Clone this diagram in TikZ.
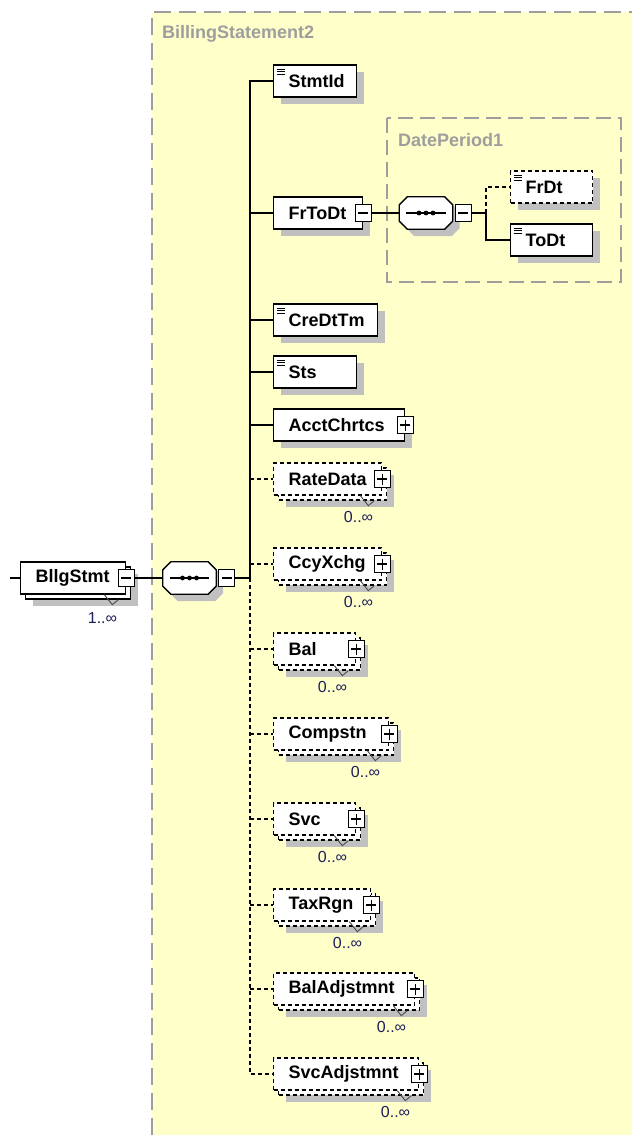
\documentclass[tikz,border=0pt]{standalone}
\usepackage{fontspec}
\setmainfont{Liberation Sans}
\usetikzlibrary{calc}
\definecolor{paneyellow}{RGB}{255,255,202}
\definecolor{framegray}{RGB}{158,158,158}
\definecolor{shadowgray}{RGB}{192,192,192}
\definecolor{occurblue}{RGB}{30,30,90}
\newcommand\octpath[1]{($(#1.north west)+(8,0)$) -- ($(#1.north east)+(-8,0)$) -- ($(#1.north east)+(0,8)$) -- ($(#1.south east)+(0,-8)$) -- ($(#1.south east)+(-8,0)$) -- ($(#1.south west)+(8,0)$) -- ($(#1.south west)+(0,-8)$) -- ($(#1.north west)+(0,8)$) -- cycle}
\begin{document}
\begin{tikzpicture}[x=1pt,y=-1pt,line join=miter,font=\fontsize{18}{21}\selectfont\bfseries,
	shade7/.style={preaction={fill=shadowgray,draw=none,transform canvas={shift={(7pt,-7pt)}}}},
	shade12/.style={preaction={fill=shadowgray,draw=none,transform canvas={shift={(12pt,-12pt)}}}},
	elembox/.style={draw,line width=1.3pt,fill=white,minimum height=32pt,inner xsep=15pt,inner ysep=0pt,text width=#1-30pt,align=left,anchor=west},
	elem/.style={shade7,elembox=#1},
	optelem/.style={shade7,elembox=#1,dash pattern=on 4pt off 3pt},
	multi/.style={shade12,preaction={draw,fill=white,transform canvas={shift={(5pt,-5pt)}}},elembox=#1},
	optmulti/.style={shade12,preaction={draw,fill=white,dash pattern=on 4pt off 3pt,transform canvas={shift={(5pt,-5pt)}}},elembox=#1,dash pattern=on 4pt off 3pt},
	simple/.style={path picture={\foreach \d in {4,6.5,9} \draw[line width=.8pt,solid] ([xshift=3pt,yshift=-\d pt]path picture bounding box.north west) -- +(8pt,0);}},
	ctrl/.style={draw,solid,line width=1.1pt,fill=white,minimum width=16pt,minimum height=17pt,inner sep=0pt},
	expbox/.style={ctrl,path picture={\draw[line width=1.1pt] ([xshift=3pt]path picture bounding box.west) -- ([xshift=-3pt]path picture bounding box.east) ([yshift=-3pt]path picture bounding box.north) -- ([yshift=3pt]path picture bounding box.south);}},
	colbox/.style={ctrl,path picture={\draw[line width=1.1pt] ([xshift=3pt]path picture bounding box.west) -- ([xshift=-3pt]path picture bounding box.east);}},
	seqbox/.style={minimum width=53pt,minimum height=32pt,inner sep=0pt},
	seqline/.style={line width=1.3pt,fill=white},
	wire/.style={line width=1.3pt},
	optwire/.style={line width=1.3pt,dash pattern=on 4pt off 3pt},
	notch/.style={line width=.9pt,black!70},
	occur/.style={font=\fontsize{16}{18}\selectfont,text=occurblue,inner sep=0pt,anchor=east},
	paneframe/.style={framegray,line width=2pt,dash pattern=on 17pt off 8pt},
	grpbox/.style={framegray,line width=1.6pt,dash pattern=on 15pt off 7pt},
	grplabel/.style={text=framegray,inner sep=0pt,anchor=west}]
	\useasboundingbox (0,0) rectangle (632,1135);
	\fill[white] (0,0) rectangle (632,1135);
	\fill[paneyellow] (152,12) rectangle (632,1135);
	\draw[paneframe] (152,1135) -- (152,12) -- (632,12);
	\node[grplabel] (pane) at (162,34) {BillingStatement2};
	\draw[grpbox] (387,118) rectangle (621,282);
	\node[grplabel] (period) at (398,140) {DatePeriod1};
	
	\node[multi=105pt] (BllgStmt) at (20,578) {BllgStmt};
	\node[colbox] (BllgStmt-x) at (BllgStmt.east) {};
	\draw[notch] ([xshift=-22pt]BllgStmt.south east) -- ++(8,10) -- ++(6,-5);
	\node[occur] (BllgStmt-n) at ($(BllgStmt.east)+(-9,40)$) {1..∞};
	\node[seqbox] (seq) at (189.5,578) {};
	\fill[shadowgray,transform canvas={shift={(7pt,-7pt)}}] \octpath{seq};
	\draw[seqline] \octpath{seq};
	\draw[wire] ([xshift=7pt]seq.west) -- ([xshift=-7pt]seq.east);
	\fill ([xshift=-7pt]seq.center) circle (2.4pt) (seq.center) circle (2.4pt) ([xshift=7pt]seq.center) circle (2.4pt);
	\node[colbox,anchor=west] (seq-x) at ([xshift=2pt]seq.east) {};
	
	\node[elem=83pt,simple] (StmtId) at (273,81) {StmtId};
	\node[elem=89pt] (FrToDt) at (273,213) {FrToDt};
	\node[colbox] (FrToDt-x) at (FrToDt.east) {};
	\node[elem=104pt,simple] (CreDtTm) at (273,320) {CreDtTm};
	\node[elem=83pt,simple] (Sts) at (273,372) {Sts};
	\node[elem=131pt] (AcctChrtcs) at (273,425) {AcctChrtcs};
	\node[expbox] (AcctChrtcs-x) at (AcctChrtcs.east) {};
	
	\node[seqbox] (seq2) at (426,213) {};
	\fill[shadowgray,transform canvas={shift={(7pt,-7pt)}}] \octpath{seq2};
	\draw[seqline] \octpath{seq2};
	\draw[wire] ([xshift=7pt]seq2.west) -- ([xshift=-7pt]seq2.east);
	\fill ([xshift=-7pt]seq2.center) circle (2.4pt) (seq2.center) circle (2.4pt) ([xshift=7pt]seq2.center) circle (2.4pt);
	\node[colbox,anchor=west] (seq2-x) at ([xshift=2pt]seq2.east) {};
	\node[optelem=82pt,simple] (FrDt) at (510,187) {FrDt};
	\node[elem=82pt,simple] (ToDt) at (510,240) {ToDt};
	
	\node[optmulti=108pt] (RateData) at (273,479) {RateData};
	\node[expbox] (RateData-x) at (RateData.east) {};
	\draw[notch] ([xshift=-22pt]RateData.south east) -- ++(8,10) -- ++(6,-5);
	\node[occur] (RateData-n) at ($(RateData.east)+(-9,38)$) {0..∞};
	\node[optmulti=108pt] (CcyXchg) at (273,564) {CcyXchg};
	\node[expbox] (CcyXchg-x) at (CcyXchg.east) {};
	\draw[notch] ([xshift=-22pt]CcyXchg.south east) -- ++(8,10) -- ++(6,-5);
	\node[occur] (CcyXchg-n) at ($(CcyXchg.east)+(-9,38)$) {0..∞};
	\node[optmulti=82pt] (Bal) at (273,649) {Bal};
	\node[expbox] (Bal-x) at (Bal.east) {};
	\draw[notch] ([xshift=-22pt]Bal.south east) -- ++(8,10) -- ++(6,-5);
	\node[occur] (Bal-n) at ($(Bal.east)+(-9,38)$) {0..∞};
	\node[optmulti=115pt] (Compstn) at (273,734) {Compstn};
	\node[expbox] (Compstn-x) at (Compstn.east) {};
	\draw[notch] ([xshift=-22pt]Compstn.south east) -- ++(8,10) -- ++(6,-5);
	\node[occur] (Compstn-n) at ($(Compstn.east)+(-9,38)$) {0..∞};
	\node[optmulti=82pt] (Svc) at (273,819) {Svc};
	\node[expbox] (Svc-x) at (Svc.east) {};
	\draw[notch] ([xshift=-22pt]Svc.south east) -- ++(8,10) -- ++(6,-5);
	\node[occur] (Svc-n) at ($(Svc.east)+(-9,38)$) {0..∞};
	\node[optmulti=97pt] (TaxRgn) at (273,905) {TaxRgn};
	\node[expbox] (TaxRgn-x) at (TaxRgn.east) {};
	\draw[notch] ([xshift=-22pt]TaxRgn.south east) -- ++(8,10) -- ++(6,-5);
	\node[occur] (TaxRgn-n) at ($(TaxRgn.east)+(-9,38)$) {0..∞};
	\node[optmulti=141pt] (BalAdjstmnt) at (273,989) {BalAdjstmnt};
	\node[expbox] (BalAdjstmnt-x) at (BalAdjstmnt.east) {};
	\draw[notch] ([xshift=-22pt]BalAdjstmnt.south east) -- ++(8,10) -- ++(6,-5);
	\node[occur] (BalAdjstmnt-n) at ($(BalAdjstmnt.east)+(-9,38)$) {0..∞};
	\node[optmulti=145pt] (SvcAdjstmnt) at (273,1074) {SvcAdjstmnt};
	\node[expbox] (SvcAdjstmnt-x) at (SvcAdjstmnt.east) {};
	\draw[notch] ([xshift=-22pt]SvcAdjstmnt.south east) -- ++(8,10) -- ++(6,-5);
	\node[occur] (SvcAdjstmnt-n) at ($(SvcAdjstmnt.east)+(-9,38)$) {0..∞};
	
	\coordinate (in) at (10,578);
	\coordinate (bus) at (250,578);
	\coordinate (bus2) at (486,213);
	\draw[wire] (in) -- (BllgStmt.west);
	\draw[wire] (BllgStmt-x.east) -- (seq.west);
	\draw[wire] (seq-x.east) -- (bus);
	\draw[wire] (bus) -- (bus |- StmtId.west) -- (StmtId.west);
	\draw[wire] (bus |- FrToDt.west) -- (FrToDt.west);
	\draw[wire] (bus |- CreDtTm.west) -- (CreDtTm.west);
	\draw[wire] (bus |- Sts.west) -- (Sts.west);
	\draw[wire] (bus |- AcctChrtcs.west) -- (AcctChrtcs.west);
	\draw[optwire] (bus |- RateData.west) -- (RateData.west);
	\draw[optwire] (bus |- CcyXchg.west) -- (CcyXchg.west);
	\draw[optwire] (bus) -- (bus |- SvcAdjstmnt.west) -- (SvcAdjstmnt.west);
	\draw[optwire] (bus |- Bal.west) -- (Bal.west);
	\draw[optwire] (bus |- Compstn.west) -- (Compstn.west);
	\draw[optwire] (bus |- Svc.west) -- (Svc.west);
	\draw[optwire] (bus |- TaxRgn.west) -- (TaxRgn.west);
	\draw[optwire] (bus |- BalAdjstmnt.west) -- (BalAdjstmnt.west);
	\draw[wire] (FrToDt-x.east) -- (seq2.west);
	\draw[wire] (seq2-x.east) -- (bus2) -- (bus2 |- ToDt.west) -- (ToDt.west);
	\draw[optwire] (bus2) -- (bus2 |- FrDt.west) -- (FrDt.west);
\end{tikzpicture}
\end{document}
